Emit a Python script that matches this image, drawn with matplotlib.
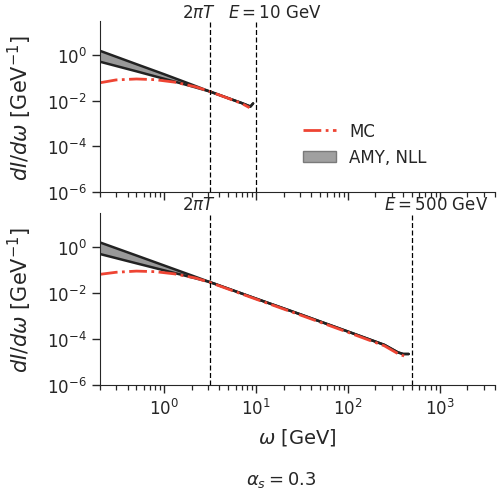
import matplotlib
matplotlib.use('Agg')
import matplotlib.pyplot as plt
import matplotlib.transforms as mtransforms
from matplotlib.patches import Patch
from matplotlib.lines import Line2D
from matplotlib.ticker import LogLocator, NullLocator, NullFormatter
import seaborn as sns

sns.set_style('ticks')
plt.rcParams['font.family'] = ['DejaVu Sans']

# E = 10 GeV panel
omega_amy_10 = [0.2, 0.5, 1.0, 2.0, 3.14, 5.0, 7.0, 8.7, 9.3]
amy_hi_10 = [1.5, 0.39, 0.142, 0.05, 0.025, 0.0127, 0.0078, 0.0055, 0.0075]
amy_lo_10 = [0.5, 0.19, 0.09, 0.042, 0.025, 0.0127, 0.0078, 0.0055, 0.0075]
omega_mc_10 = [0.2, 0.3, 0.5, 0.8, 1.3, 2.2, 3.14, 5.0, 7.0, 8.5]
mc_10 = [0.06, 0.08, 0.088, 0.082, 0.064, 0.04, 0.025, 0.0125, 0.0075, 0.0049]

# E = 500 GeV panel
omega_amy_500 = [0.2, 0.5, 1.0, 2.0, 3.14, 10, 30, 100, 250, 350, 400, 460]
amy_hi_500 = [1.6, 0.43, 0.158, 0.058, 0.03, 0.0057, 0.0012, 2.1e-4, 5.5e-5, 2.6e-5, 2.2e-5, 2.2e-5]
amy_lo_500 = [0.5, 0.196, 0.097, 0.048, 0.03, 0.0057, 0.0012, 2.1e-4, 5.5e-5, 2.6e-5, 2.2e-5, 2.2e-5]
omega_mc_500 = [0.2, 0.3, 0.5, 0.8, 1.3, 2.2, 3.14, 10, 30, 100, 250, 350, 410]
mc_500 = [0.065, 0.08, 0.09, 0.085, 0.068, 0.045, 0.029, 0.0054, 0.00112, 1.95e-4, 5e-5, 2.3e-5, 1.8e-5]

two_pi_T = 3.14
energies = [10, 500]
alpha_s = 0.3

red = '#ee4433'
ylab = r'$dI/d\omega$ [GeV$^{-1}$]'

fig = plt.figure(figsize=(4.97, 4.89), dpi=100)
ax1 = fig.add_axes([0.201, 0.605, 0.795, 0.35])
ax2 = fig.add_axes([0.201, 0.211, 0.795, 0.351], sharex=ax1)

panels = [
    (ax1, omega_amy_10, amy_hi_10, amy_lo_10, omega_mc_10, mc_10, energies[0]),
    (ax2, omega_amy_500, amy_hi_500, amy_lo_500, omega_mc_500, mc_500, energies[1]),
]

for ax, w_amy, hi, lo, w_mc, mc, E in panels:
    ax.set_xscale('log')
    ax.set_yscale('log')

    ax.fill_between(w_amy, lo, hi, color='#999999', lw=0)
    ax.plot(w_amy, hi, color='#222222', lw=1.8)
    ax.plot(w_amy, lo, color='#222222', lw=1.8)
    ax.plot(w_mc, mc, color=red, lw=2, ls='-.')

    for x in (two_pi_T, E):
        ax.axvline(x, color='black', lw=0.9, ls=(0, (4, 2)))

    trans = mtransforms.blended_transform_factory(ax.transData, ax.transAxes)
    ax.text(two_pi_T / 2, 1.0, r'$2\pi T$', transform=trans, ha='left', va='bottom', fontsize=12)
    ax.text(E / 2, 1.0, r'$E = %d$ GeV' % E, transform=trans, ha='left', va='bottom', fontsize=12)

    ax.set_ylim(1e-6, 30)
    ax.set_yticks([1e0, 1e-2, 1e-4, 1e-6])
    ax.yaxis.set_minor_locator(NullLocator())
    ax.tick_params(labelsize=12)
    ax.tick_params(which='major', length=6, width=1)
    ax.set_ylabel(ylab, fontsize=15, labelpad=9)
    sns.despine(ax=ax)

ax1.set_xlim(0.2, 4000)
ax1.xaxis.set_minor_locator(LogLocator(base=10, subs=range(2, 10), numticks=20))
ax1.xaxis.set_minor_formatter(NullFormatter())
for ax in (ax1, ax2):
    ax.tick_params(axis='x', which='minor', length=3.5, width=0.9, color='#262626', bottom=True)

ax1.tick_params(axis='x', labelbottom=False)
ax2.set_xlabel(r'$\omega$ [GeV]', fontsize=14, labelpad=6)

handles = [Line2D([], [], color=red, lw=2, ls='-.'),
           Patch(facecolor='#a0a0a0', edgecolor='#7a7a7a')]
ax1.legend(handles, ['MC', 'AMY, NLL'], loc='center left', bbox_to_anchor=(0.475, 0.28),
           frameon=False, fontsize=12)

fig.text(281 / 497, 1 - 480 / 489, r'$\alpha_s = %.1f$' % alpha_s, ha='center', va='center', fontsize=13)

fig.savefig('out.png', dpi=100)
